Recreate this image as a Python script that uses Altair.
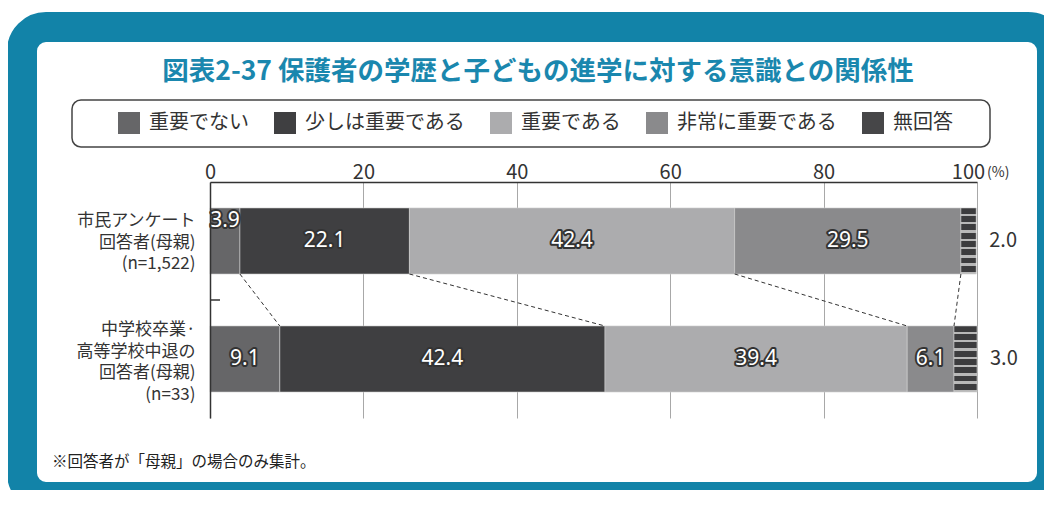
import altair as alt

TITLE = "図表2-37 保護者の学歴と子どもの進学に対する意識との関係性"
NOTE = "※回答者が「母親」の場合のみ集計。"

categories = ["市民アンケート\n回答者(母親)\n(n=1,522)",
              "中学校卒業·\n高等学校中退の\n回答者(母親)\n(n=33)"]
keys = ["a", "b"]
levels = ["重要でない", "少しは重要である", "重要である", "非常に重要である", "無回答"]
citizen_values = [3.9, 22.1, 42.4, 29.5, 2.0]
junior_values = [9.1, 42.4, 39.4, 6.1, 3.0]
x_ticks = [0, 20, 40, 60, 80, 100]

colors = ["#666668", "#3f3f41", "#acacae", "#8a8a8c", "#464648"]
FONT = "Noto Sans CJK JP"
TEAL = "#1283a8"

rows = []
for cat, key, vals in zip(categories, keys, [citizen_values, junior_values]):
    for j, (lev, v) in enumerate(zip(levels, vals)):
        rows.append({"cat": cat, "key": key, "level": lev, "order": j, "value": v})

# striped fill for 無回答
stops = []
n = 8
for i in range(n):
    stops += [{"offset": i / n, "color": "#3c3c3e"},
              {"offset": (i + 0.72) / n, "color": "#3c3c3e"},
              {"offset": (i + 0.72) / n, "color": "#b8b8b8"},
              {"offset": (i + 1) / n, "color": "#b8b8b8"}]
stripes = {"gradient": "linear", "x1": 0, "y1": 0, "x2": 0, "y2": 1, "stops": stops}

one = alt.Data(values=[{}])

frame = alt.Chart(one).mark_rect(filled=False, stroke=TEAL, strokeWidth=30, cornerRadius=24).encode(
    x=alt.value(-188), x2=alt.value(842), y=alt.value(-155), y2=alt.value(315))
legend_box = alt.Chart(one).mark_rect(filled=False, stroke="#444", strokeWidth=1.5, cornerRadius=9).encode(
    x=alt.value(-138), x2=alt.value(780), y=alt.value(-82), y2=alt.value(-35))
title = alt.Chart(one).mark_text(text=TITLE, font=FONT, fontSize=26.5, fontWeight="bold",
                                 color="#1a87ae", align="center", baseline="middle").encode(
    x=alt.value(328), y=alt.value(-110))
note = alt.Chart(one).mark_text(text=NOTE, font=FONT, fontSize=15.5, color="#222",
                                align="left", baseline="middle").encode(
    x=alt.value(-158), y=alt.value(280))
pct = alt.Chart(one).mark_text(text="(%)", font=FONT, fontSize=14, color="#333",
                               align="left", baseline="middle").encode(
    x=alt.value(777), y=alt.value(-9))
mid_tick = alt.Chart(one).mark_rule(color="#333", strokeWidth=1.5).encode(
    x=alt.value(0), x2=alt.value(10), y=alt.value(118))

base = alt.Chart(alt.Data(values=rows)).transform_stack(
    stack="value", as_=["x0", "x1"], groupby=["cat"],
    sort=[alt.SortField("order", order="ascending")]
).transform_calculate(mid="(datum.x0 + datum.x1) / 2")

yenc = alt.Y("cat:N", sort=categories, title=None,
             scale=alt.Scale(paddingInner=0.44, paddingOuter=0.22),
             axis=alt.Axis(labelExpr="split(datum.label, '\\n')", labelFont=FONT,
                           labelFontSize=17, labelLineHeight=21.5, labelColor="#333",
                           labelOffset={"condition": {"test": "indexof(datum.label, 'n=33') >= 0",
                                                      "value": -29}, "value": -20},
                           ticks=False, labelPadding=15, domainColor="#333",
                           domainWidth=1.5, zindex=1))

bars = base.mark_bar(stroke="#d0d0d0", strokeWidth=0.6).encode(
    x=alt.X("x0:Q", title=None, scale=alt.Scale(domain=[0, 100]),
            axis=alt.Axis(orient="top", values=x_ticks, ticks=False, labelFont=FONT,
                          labelFontSize=20, labelColor="#333", labelPadding=0,
                          labelFlush=False,
                          labelOffset={"condition": {"test": "datum.value == 100", "value": -9},
                                       "value": 0},
                          domainColor="#333", domainWidth=1.5,
                          gridColor="#a8a8a8", gridWidth=1)),
    x2="x1:Q",
    y=yenc,
    color=alt.condition(
        "datum.level == '無回答'",
        alt.value(stripes),
        alt.Color("level:N", scale=alt.Scale(domain=levels, range=colors), sort=levels,
                  legend=alt.Legend(title=None, orient="none", legendX=-92, legendY=-70,
                                    direction="horizontal", symbolType="square",
                                    symbolSize=484, symbolStrokeWidth=0, symbolOpacity=1,
                                    labelFont=FONT, labelFontSize=20, labelColor="#333",
                                    labelOffset=9, columnPadding=25, padding=0)),
    ),
)

connectors = base.transform_filter("datum.order < 4").transform_pivot(
    "key", value="x1", groupby=["level"]
).mark_rule(color="#333", strokeWidth=1, strokeDash=[4, 3]).encode(
    x=alt.X("a:Q", title=None), x2="b:Q", y=alt.value(92), y2=alt.value(144))

inside = base.transform_filter("datum.level != '無回答' && datum.value >= 5")
small = base.transform_filter("datum.level != '無回答' && datum.value < 5")

def labels(src, dy):
    outline = src.mark_text(font="Noto Sans", fontSize=21, fill="#333", stroke="#333",
                            strokeWidth=4, strokeJoin="round", dy=dy).encode(
        x=alt.X("mid:Q", title=None), y=alt.Y("cat:N", sort=categories, title=None),
        text=alt.Text("value:Q", format=".1f"))
    white = src.mark_text(font="Noto Sans", fontSize=21, fill="white", dy=dy).encode(
        x=alt.X("mid:Q", title=None), y=alt.Y("cat:N", sort=categories, title=None),
        text=alt.Text("value:Q", format=".1f"))
    return outline + white

right = base.transform_filter("datum.level == '無回答'").mark_text(
    font=FONT, fontSize=20, color="#333", align="left", dx=13).encode(
    x=alt.X("x1:Q", title=None), y=alt.Y("cat:N", sort=categories, title=None),
    text=alt.Text("value:Q", format=".1f"))

chart = alt.layer(
    frame, legend_box, title, note, pct,
    bars, connectors, labels(inside, 0), labels(small, -20), right, mid_tick,
).properties(
    width=767, height=236, autosize="none",
    padding={"left": 202, "top": 174, "right": 67, "bottom": 72},
    background="white",
).configure_view(stroke=None)

chart.save("out.html", embed_options={"renderer": "svg", "actions": False})
